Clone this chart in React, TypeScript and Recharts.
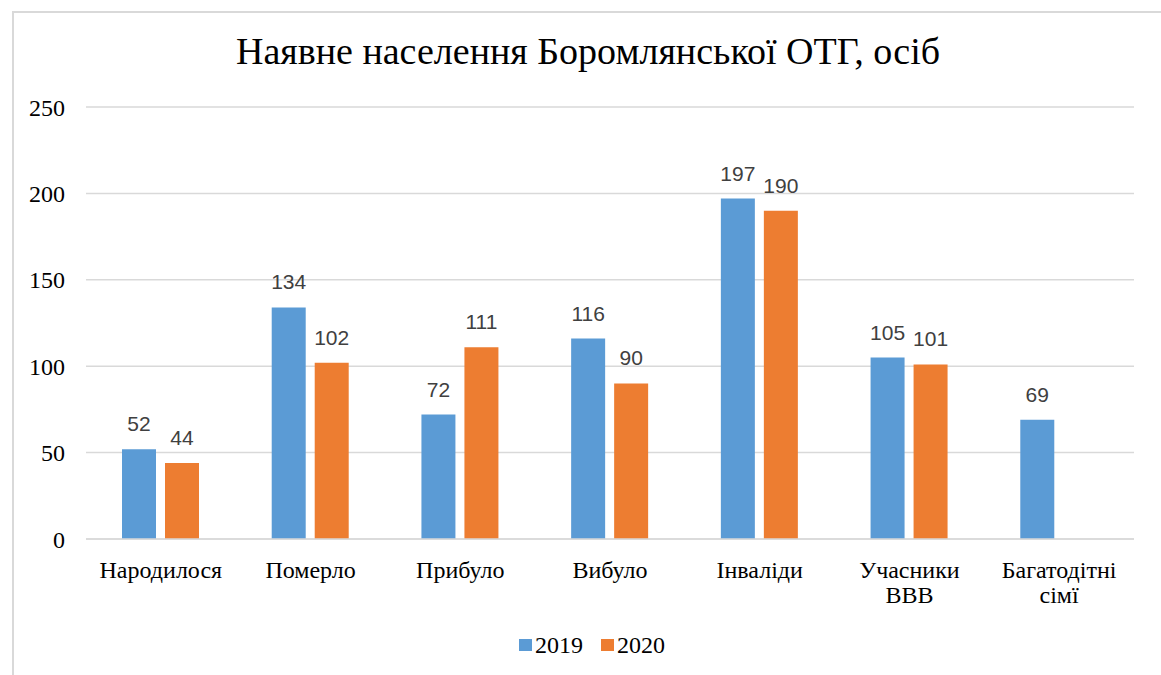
import React from 'react';
import { BarChart, Bar, XAxis, YAxis, CartesianGrid, Legend, LabelList } from 'recharts';

const categories = ['Народилося', 'Померло', 'Прибуло', 'Вибуло', 'Інваліди', 'Учасники ВВВ', 'Багатодітні сімї'];
const values2019 = [52, 134, 72, 116, 197, 105, 69];
const values2020: (number | null)[] = [44, 102, 111, 90, 190, 101, null];
const yTicks = [0, 50, 100, 150, 200, 250];

const data = categories.map((name, i) => ({ name, y2019: values2019[i], y2020: values2020[i] }));

const serif = '"Liberation Serif", "Times New Roman", serif';
const sans = '"Liberation Sans", Arial, sans-serif';

const CategoryTick = (props: any) => {
  const { x, y, payload } = props;
  const words = String(payload.value).split(' ');
  return (
    <text x={x} y={y} textAnchor="middle" fill="#000" fontFamily={serif} fontSize={24}>
      {words.map((w, i) => (
        <tspan key={i} x={x} dy={i === 0 ? 31 : 25}>{w}</tspan>
      ))}
    </text>
  );
};

const LegendContent = (props: any) => {
  const { payload } = props;
  return (
    <div style={{ display: 'flex', alignItems: 'center', height: 24, fontFamily: serif, fontSize: 24, color: '#000' }}>
      {(payload || []).map((p: any, i: number) => (
        <div key={i} style={{ display: 'flex', alignItems: 'center', marginRight: 18 }}>
          <span style={{ display: 'inline-block', width: 13, height: 12, background: p.color, marginRight: 3 }} />
          <span>{p.value}</span>
        </div>
      ))}
    </div>
  );
};

export default function App() {
  return (
    <div style={{ position: 'fixed', left: 0, top: 0, width: 1161, height: 675, overflow: 'hidden', background: '#fff' }}>
      <div style={{ position: 'absolute', left: 12, top: 11, width: 1160, height: 680, border: '2px solid #d9d9d9', boxSizing: 'border-box' }} />
      <div style={{ position: 'absolute', left: 0, width: 1176, top: 28, lineHeight: '46px', textAlign: 'center', fontFamily: serif, fontSize: 38, color: '#000' }}>
        Наявне населення Боромлянської ОТГ, осіб
      </div>
      <div style={{ position: 'absolute', left: 0, top: 0 }}>
        <BarChart width={1161} height={675} data={data} margin={{ top: 107, right: 27, bottom: 106, left: 0 }}
          barCategoryGap={36} barGap={9}>
          <CartesianGrid vertical={false} stroke="#d9d9d9" strokeWidth={1.5} />
          <XAxis dataKey="name" axisLine={{ stroke: '#d9d9d9', strokeWidth: 1.5 }} tickLine={false} tick={<CategoryTick />} interval={0} />
          <YAxis domain={[0, 250]} ticks={yTicks} width={86} axisLine={false} tickLine={false} tickMargin={15}
            tick={{ fill: '#000', fontFamily: serif, fontSize: 24 }} />
          <Legend content={<LegendContent />} wrapperStyle={{ position: 'absolute', left: 519, top: 633, width: 'auto', height: 0 }} />
          <Bar dataKey="y2019" name="2019" fill="#5B9BD5" barSize={34} isAnimationActive={false}>
            <LabelList dataKey="y2019" position="top" offset={18} fill="#404040" fontFamily={sans} fontSize={21} />
          </Bar>
          <Bar dataKey="y2020" name="2020" fill="#ED7D31" barSize={34} isAnimationActive={false}>
            <LabelList dataKey="y2020" position="top" offset={18} fill="#404040" fontFamily={sans} fontSize={21} />
          </Bar>
        </BarChart>
      </div>
    </div>
  );
}
